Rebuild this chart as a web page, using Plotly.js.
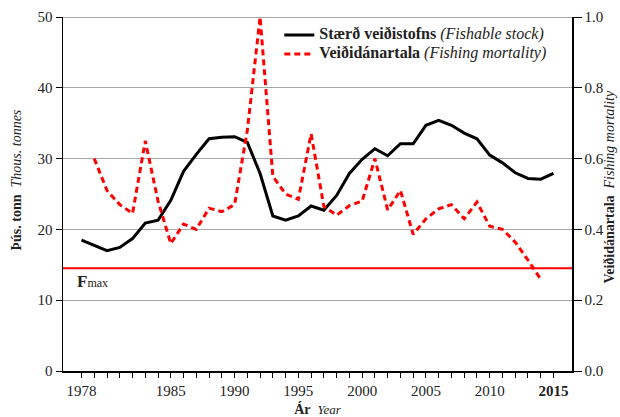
<!DOCTYPE html>
<html>
<head>
<meta charset="utf-8">
<script src="https://cdn.plot.ly/plotly-3.0.1.min.js"></script>
<style>html,body{margin:0;padding:0;background:#fff;}#chart{width:620px;height:417px;}</style>
</head>
<body>
<div id="chart"></div>
<script>
// Fishable stock (thousand tonnes), 1978-2015
const stockYears = [1978,1979,1980,1981,1982,1983,1984,1985,1986,1987,1988,1989,1990,1991,1992,1993,1994,1995,1996,1997,1998,1999,2000,2001,2002,2003,2004,2005,2006,2007,2008,2009,2010,2011,2012,2013,2014,2015];
const stockValues = [18.5,17.75,17.0,17.45,18.7,20.9,21.3,24.1,28.2,30.6,32.8,33.0,33.1,32.3,27.9,21.9,21.3,21.9,23.3,22.7,24.8,27.9,29.9,31.4,30.4,32.1,32.1,34.7,35.4,34.7,33.6,32.8,30.5,29.4,28.0,27.2,27.1,27.9];
// Fishing mortality, 1979-2014
const fYears = [1979,1980,1981,1982,1983,1984,1985,1986,1987,1988,1989,1990,1991,1992,1993,1994,1995,1996,1997,1998,1999,2000,2001,2002,2003,2004,2005,2006,2007,2008,2009,2010,2011,2012,2013,2014];
const fValues = [0.60,0.51,0.47,0.445,0.65,0.48,0.36,0.415,0.40,0.46,0.45,0.47,0.68,1.0,0.55,0.50,0.485,0.67,0.465,0.44,0.467,0.48,0.60,0.455,0.51,0.386,0.43,0.458,0.47,0.43,0.477,0.409,0.40,0.364,0.313,0.259];
const fmax = 0.29;
// Tick labels
const xTickYears = [];
for (let y = 1978; y <= 2015; y++) xTickYears.push(y);
const xLabelled = {1978:'1978',1985:'1985',1990:'1990',1995:'1995',2000:'2000',2005:'2005',2010:'2010',2015:'<b>2015</b>'};
const xTickText = xTickYears.map(y => xLabelled[y] || '');
const yLeftTicks = [0,10,20,30,40,50];
const yRightTicks = [0,0.2,0.4,0.6,0.8,1.0];

const serif = 'Liberation Serif, Times New Roman, serif';
const txt = '#222';

const traces = [
  {x: stockYears, y: stockValues, type:'scatter', mode:'lines', yaxis:'y',
   name:'<span style="font-size:16px"><b>Stærð veiðistofns</b> <i>(Fishable stock)</i></span>',
   line:{color:'#000', width:3}},
  {x: fYears, y: fValues, type:'scatter', mode:'lines', yaxis:'y2',
   name:'<span style="font-size:16px"><b>Veiðidánartala</b> <i>(Fishing mortality)</i></span>',
   line:{color:'#ff0000', width:3, dash:'6px,4px'}}
];

const layout = {
  width:620, height:417,
  margin:{l:63, r:48, t:17, b:46, pad:0},
  paper_bgcolor:'#fff', plot_bgcolor:'#fff',
  font:{family:serif, size:15, color:txt},
  showlegend:true,
  legend:{x:0.425, y:0.99, xanchor:'left', yanchor:'top', bgcolor:'rgba(0,0,0,0)',
          font:{family:serif, size:9.5, color:txt}, tracegroupgap:0},
  xaxis:{range:[1976.55,2016.45], tickmode:'array', tickvals:xTickYears, ticktext:xTickText,
         ticks:'outside', ticklen:5, tickwidth:1, tickcolor:'#000',
         showline:true, linecolor:'#000', linewidth:1.5, showgrid:false, zeroline:false,
         tickfont:{size:15, color:txt},
         title:{text:'<b>Ár</b>  <i style="font-size:13px">Year</i>', font:{size:14, color:txt}, standoff:6}},
  yaxis:{range:[0,50], tickmode:'array', tickvals:yLeftTicks, ticks:'outside', ticklen:6, tickcolor:'#000',
         showline:true, linecolor:'#000', linewidth:1.5, showgrid:true, gridcolor:'#a8a8a8', gridwidth:1.2,
         zeroline:false, tickfont:{size:15, color:txt}},
  yaxis2:{range:[0,1], overlaying:'y', side:'right', tickmode:'array', tickvals:yRightTicks, tickformat:'.1f',
          ticks:'outside', ticklen:8, tickcolor:'#000', showline:true, linecolor:'#000', linewidth:1.5,
          showgrid:false, zeroline:false, tickfont:{size:15, color:txt}},
  shapes:[
    {type:'line', xref:'paper', x0:0, x1:1, yref:'y2', y0:fmax, y1:fmax, line:{color:'#ff0000', width:2}, layer:'below'},
    {type:'line', xref:'paper', x0:0, x1:1, yref:'y', y0:50, y1:50, line:{color:'#888', width:1.5}, layer:'below'}
  ],
  annotations:[
    {xref:'x', yref:'y', x:1977.5, y:12.6, xanchor:'left', yanchor:'middle', showarrow:false,
     text:'<b style="font-size:17px">F</b><span style="font-size:12px">max</span>', font:{family:serif, color:txt}},
    {xref:'paper', yref:'paper', x:-0.091, y:0.54, xanchor:'center', yanchor:'middle', showarrow:false, textangle:-90,
     text:'<b>Þús. tonn</b>  <i>Thous. tonnes</i>', font:{family:serif, size:14, color:txt}},
    {xref:'paper', yref:'paper', x:1.074, y:0.52, xanchor:'center', yanchor:'middle', showarrow:false, textangle:-90,
     text:'<b>Veiðidánartala</b>  <i>Fishing mortality</i>', font:{family:serif, size:14, color:txt}}
  ]
};

Plotly.newPlot('chart', traces, layout, {displayModeBar:false, staticPlot:true});
</script>
</body>
</html>
